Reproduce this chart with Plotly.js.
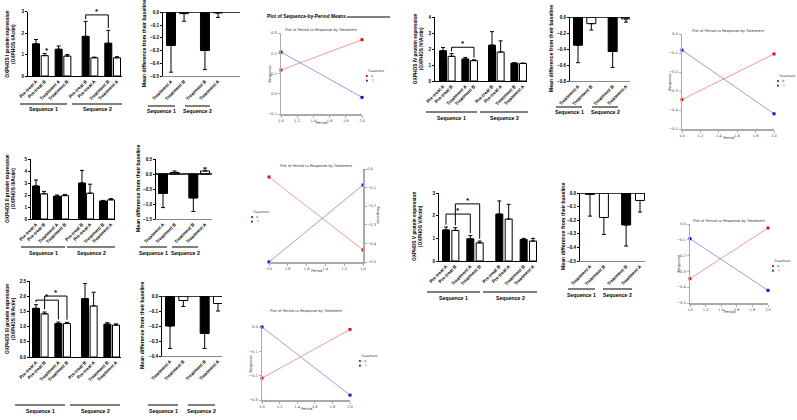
<!DOCTYPE html>
<html><head><meta charset="utf-8">
<script src="https://cdn.plot.ly/plotly-3.0.1.min.js"></script>
<style>html,body{margin:0;padding:0;background:#fff}#chart{width:797px;height:420px}</style>
</head><body><div id="chart"></div>
<script>
// ================= DATA =================
const barCats  = ["Pre-treat A","Pre-treat B","Treatment A","Treatment B","Pre-treat B","Pre-treat A","Treatment B","Treatment A"];
const diffCats = ["Treatment A","Treatment B","Treatment B","Treatment A"];
const seqLabels = ["Sequence 1","Sequence 2"];
const periods = [1.0, 2.0];
const legendLevels = ["A","T"];

// OXPHOS I
const ox1Mean = [1.50,0.95,1.25,0.93,1.85,0.85,1.53,0.85];
const ox1Err  = [0.20,0.10,0.15,0.07,0.70,0.03,0.60,0.05];
const ox1Sig  = [[4,6]];
const ox1Star = [1];
const ox1Diff = [-0.26,-0.01,-0.30,-0.005];
const ox1DiffErr = [0.21,0.06,0.15,0.035];
// OXPHOS II
const ox2Mean = [2.75,2.10,1.90,1.95,3.00,2.15,1.50,1.60];
const ox2Err  = [0.50,0.20,0.10,0.10,1.05,0.75,0.05,0.10];
const ox2Diff = [-0.65,0.05,-0.80,0.10];
const ox2DiffErr = [0.47,0.05,0.45,0.10];
// OXPHOS III
const ox3Mean = [1.60,1.42,1.10,1.10,1.92,1.68,1.08,1.05];
const ox3Err  = [0.12,0.06,0.05,0.04,0.50,0.45,0.05,0.04];
const ox3Sig  = [[0,2],[1,3]];
const ox3Diff = [-0.20,-0.03,-0.25,-0.05];
const ox3DiffErr = [0.15,0.04,0.10,0.05];
// OXPHOS IV
const ox4Mean = [1.90,1.55,1.38,1.28,2.25,1.82,1.12,1.10];
const ox4Err  = [0.20,0.17,0.10,0.05,0.85,0.70,0.03,0.03];
const ox4Sig  = [[1,3]];
const ox4Diff = [-0.35,-0.08,-0.43,-0.02];
const ox4DiffErr = [0.22,0.08,0.20,0.04];
// OXPHOS V
const ox5Mean = [1.37,1.35,0.98,0.80,2.07,1.85,0.95,0.88];
const ox5Err  = [0.13,0.12,0.14,0.08,0.58,0.65,0.05,0.12];
const ox5Sig  = [[0,2],[1,3]];
const ox5Diff = [-0.01,-0.18,-0.235,-0.055];
const ox5DiffErr = [0.16,0.125,0.155,0.085];

// Period-by-treatment mean plots (values at period 1.0, 2.0)
const lp1A = [0.117, 0.267], lp1T = [0.206, -0.018];
const lp2A = [-0.345,-0.105], lp2T = [-0.085,-0.42];
const lp3A = [-0.435,-0.043], lp3T = [-0.086,-0.50];
const lp4A = [-0.346,-0.025], lp4T = [-0.093,-0.42];
const lp5A = [-0.21,-0.01],  lp5T = [0.0,-0.28];

// ================= LAYOUT HELPERS =================
const W = 797, H = 420;
const px = x => x / W;
const py = y => 1 - y / H;
const layout = {width:W, height:H, margin:{l:0,r:0,t:0,b:0}, paper_bgcolor:'#fff',
  plot_bgcolor:'rgba(0,0,0,0)', showlegend:false, shapes:[], annotations:[],
  font:{family:'Liberation Sans, Arial, sans-serif', color:'#000'}};
const traces = [];
let axN = 0;
function newAxes(x0,x1,yTop,yBot,xo,yo){
  axN++; const s = axN===1?'':String(axN);
  layout['xaxis'+s] = Object.assign({domain:[px(x0),px(x1)], anchor:'y'+s, showgrid:false, zeroline:false, fixedrange:true}, xo);
  layout['yaxis'+s] = Object.assign({domain:[py(yBot),py(yTop)], anchor:'x'+s, showgrid:false, zeroline:false, fixedrange:true}, yo);
  return {x:'x'+s, y:'y'+s};
}
function ann(text,x,y,o){ layout.annotations.push(Object.assign({text:text, x:px(x), y:py(y), xref:'paper', yref:'paper', showarrow:false, xanchor:'center', yanchor:'middle'}, o||{})); }
function hline(x0,x1,y,color,w){ layout.shapes.push({type:'line', xref:'paper', yref:'paper', x0:px(x0), x1:px(x1), y0:py(y), y1:py(y), line:{color:color||'#000', width:w||1}}); }
const BOLD = {family:'Liberation Sans, Arial, sans-serif', weight:'bold', color:'#000'};

const pos8 = [0,1,2.6,3.6,5.7,6.7,8.3,9.3];
const pos4 = [0,1.5,3.9,5.4];

function barPanel(c){
  const pos = c.pos, n = c.mean.length;
  const u = (c.b1 - c.b0) / (pos[n-1] - pos[0]);
  const r0 = pos[0] - (c.b0 - c.xa) / u;
  const r1 = r0 + (c.xe - c.xa) / u;
  const ax = newAxes(c.xa, c.xe, c.yt, c.yb,
    {range:[r0,r1], tickvals:pos, ticktext:c.cats, tickangle:-45, showline:true,
     linecolor:c.diff?'#8a8a8a':'#000', linewidth:1, ticks:'', tickfont:Object.assign({size:4.6}, BOLD)},
    {range:c.yr, dtick:c.dtick, tickformat:c.fmt, showline:true, linecolor:'#000', linewidth:1,
     ticks:'outside', ticklen:2, tickwidth:1, tickcolor:'#000', tickfont:Object.assign({size:4.6}, BOLD)});
  const colors = c.mean.map((v,i)=> i%2===0 ? '#000' : '#fff');
  const plus = c.mean.map((v,i)=> v>=0 ? c.err[i] : 0);
  const minus = c.mean.map((v,i)=> v<0 ? c.err[i] : 0);
  traces.push({type:'bar', x:pos, y:c.mean, xaxis:ax.x, yaxis:ax.y, width:c.barPx/u,
    marker:{color:colors, line:{color:'#000', width:1}},
    error_y:{type:'data', symmetric:false, array:plus, arrayminus:minus, color:'#000', thickness:1, width:2},
    hoverinfo:'skip', cliponaxis:false});
  if (c.diff) {
    layout.shapes.push({type:'line', xref:ax.x+' domain', yref:ax.y, x0:0, x1:1, y0:0, y1:0, line:{color:'#000', width:1.3}});
  }
  const span = c.yr[1]-c.yr[0];
  const top = i => c.mean[i] + (c.mean[i]>=0 ? c.err[i] : 0);
  (c.sig||[]).forEach((p,k)=>{
    const [i,j] = p;
    let m = -Infinity; for (let q=i;q<=j;q++) m = Math.max(m, top(q));
    const lvl = m + c.sigPad*span + k*c.sigStep*span;
    const gap = 0.035*span;
    const L = (x0,y0,x1,y1)=>layout.shapes.push({type:'line', xref:ax.x, yref:ax.y, x0:x0,y0:y0,x1:x1,y1:y1, line:{color:'#000', width:1}});
    L(pos[i], lvl, pos[j], lvl);
    L(pos[i], lvl, pos[i], Math.min(lvl, top(i)+gap));
    L(pos[j], lvl, pos[j], Math.min(lvl, top(j)+gap));
    layout.annotations.push({text:'*', xref:ax.x, yref:ax.y, x:(pos[i]+pos[j])/2, y:lvl, yanchor:'bottom', showarrow:false, font:Object.assign({size:8}, BOLD), yshift:-3});
  });
  (c.star||[]).forEach(i=>{
    layout.annotations.push({text:'*', xref:ax.x, yref:ax.y, x:pos[i], y:top(i), yanchor:'bottom', xshift:2, yshift:-4, showarrow:false, font:Object.assign({size:8}, BOLD)});
  });
  ann(c.ytitle, c.tx, (c.yt+c.yb)/2, {textangle:-90, font:Object.assign({size:c.diff?5.2:4.8}, BOLD)});
  c.seq.forEach((s,k)=>{ hline(s[0], s[1], c.seqY, '#000', 1); ann(seqLabels[k], (s[0]+s[1])/2, c.seqY+5.5, {font:Object.assign({size:5.2}, BOLD)}); });
}

function linePanel(c){
  const tf = {size:3.6, color:'#444', family:'DejaVu Sans, sans-serif'};
  const ax = newAxes(c.x0, c.x1, c.yt, c.yb,
    {range:c.rev?[2,1]:[1,2], dtick:0.2, tickformat:'.1f', showline:true, linecolor:'#aaa', linewidth:1.5,
     ticks:'outside', ticklen:2, tickcolor:'#aaa', tickfont:tf},
    {range:c.yr, dtick:c.dtick, tickformat:'.1f', showline:true, linecolor:'#aaa', linewidth:1.5, side:c.rev?'right':'left',
     ticks:'outside', ticklen:2, tickcolor:'#aaa', tickfont:tf});
  traces.push({type:'scatter', mode:'lines+markers', x:periods, y:c.A, xaxis:ax.x, yaxis:ax.y,
    line:{color:'#f29a9a', width:1}, marker:{symbol:'square', size:3, color:'#e01010'}, hoverinfo:'skip', cliponaxis:false});
  traces.push({type:'scatter', mode:'lines+markers', x:periods, y:c.T, xaxis:ax.x, yaxis:ax.y,
    line:{color:'#9a9af2', width:1}, marker:{symbol:'square', size:3, color:'#1010d0'}, hoverinfo:'skip', cliponaxis:false});
  const f = {size:3.6, color:'#333', family:'DejaVu Sans, sans-serif'};
  ann('Plot of Period vs Response by Treatment', (c.x0+c.x1)/2, c.ty || (c.yt-3), {font:f});
  ann('Period', (c.x0+c.x1)/2, c.yb+9, {font:f});
  ann('Response', c.rev ? c.x1+14 : c.x0-12, (c.yt+c.yb)/2, {textangle:c.rev?90:-90, font:f});
  const fl = {size:3.2, color:'#333', family:'DejaVu Sans, sans-serif'};
  ann('Treatment', c.lx, c.ly, {xanchor:'left', font:fl});
  const cols = ['#e01010','#1010d0'];
  legendLevels.forEach((t,k)=>{
    const yy = c.ly + 5 + k*4.6;
    layout.shapes.push({type:'rect', xref:'paper', yref:'paper', x0:px(c.lx+1), x1:px(c.lx+2.8), y0:py(yy-0.9), y1:py(yy+0.9), fillcolor:cols[k], line:{width:0}});
    ann(t, c.lx+4, yy, {xanchor:'left', font:fl});
  });
}

// ================= PANELS =================
barPanel({cats:barCats, pos:pos8, mean:ox1Mean, err:ox1Err, xa:28, xe:122, b0:36, b1:117, yt:11.7, yb:76, yr:[0,3], dtick:1, fmt:'d', barPx:7,
  sig:ox1Sig, sigPad:0.1, sigStep:0.1, star:ox1Star, ytitle:'OXPHOS I protein expression<br>(OXPHOS I/Actin)', tx:11,
  seq:[[20,67],[72,122]], seqY:104});
barPanel({cats:diffCats, pos:pos4, mean:ox1Diff, err:ox1DiffErr, diff:true, xa:163, xe:240, b0:171, b1:218, yt:12.3, yb:76, yr:[-0.5,0], dtick:0.1, fmt:'.1f', barPx:9,
  ytitle:'Mean difference from their baseline', tx:144, seq:[[148,175],[185,210]], seqY:106});
barPanel({cats:barCats, pos:pos8, mean:ox2Mean, err:ox2Err, xa:31, xe:115, b0:36, b1:111, yt:159, yb:219, yr:[0,5], dtick:1, fmt:'d', barPx:7,
  ytitle:'OXPHOS II protein expression<br>(OXPHOS II/Actin)', tx:11, seq:[[21,65],[67,115]], seqY:247});
barPanel({cats:diffCats, pos:pos4, mean:ox2Diff, err:ox2DiffErr, diff:true, xa:156, xe:212, b0:163, b1:205, yt:159, yb:219, yr:[-1.5,0.5], dtick:0.5, fmt:'.1f', barPx:9,
  ytitle:'Mean difference from their baseline', tx:138, seq:[[140,167],[172,198]], seqY:247});
barPanel({cats:barCats, pos:pos8, mean:ox3Mean, err:ox3Err, xa:30, xe:121, b0:36, b1:116, yt:281, yb:357, yr:[0,2.5], dtick:0.5, fmt:'.1f', barPx:7,
  sig:ox3Sig, sigPad:0.06, sigStep:0.15, ytitle:'OXPHOS III protein expression<br>(OXPHOS III/Actin)', tx:10, seq:[[15,65],[70,120]], seqY:405});
barPanel({cats:diffCats, pos:pos4, mean:ox3Diff, err:ox3DiffErr, diff:true, xa:162, xe:222, b0:170, b1:218, yt:296, yb:356, yr:[-0.4,0], dtick:0.1, fmt:'.1f', barPx:9,
  ytitle:'Mean difference from their baseline', tx:142, seq:[[148,178],[188,215]], seqY:405});
barPanel({cats:barCats, pos:pos8, mean:ox4Mean, err:ox4Err, xa:435, xe:527, b0:443, b1:523, yt:17.3, yb:81, yr:[0,4], dtick:1, fmt:'d', barPx:7,
  sig:ox4Sig, sigPad:0.1, sigStep:0.1, ytitle:'OXPHOS IV protein expression<br>(OXPHOS IV/Actin)', tx:418, seq:[[426,477],[480,528]], seqY:112});
barPanel({cats:diffCats, pos:pos4, mean:ox4Diff, err:ox4DiffErr, diff:true, xa:570, xe:630, b0:578, b1:626, yt:17.3, yb:81, yr:[-0.8,0], dtick:0.2, fmt:'.1f', barPx:9,
  ytitle:'Mean difference from their baseline', tx:551, seq:[[556,582],[592,618]], seqY:107});
barPanel({cats:barCats, pos:pos8, mean:ox5Mean, err:ox5Err, xa:439, xe:537, b0:446, b1:533, yt:193, yb:261, yr:[0,3], dtick:1, fmt:'d', barPx:7,
  sig:ox5Sig, sigPad:0.19, sigStep:0.16, ytitle:'OXPHOS V protein expression<br>(OXPHOS V/Actin)', tx:417, seq:[[427,480],[483,537]], seqY:292});
barPanel({cats:diffCats, pos:pos4, mean:ox5Diff, err:ox5DiffErr, diff:true, xa:580, xe:645, b0:590, b1:640, yt:193, yb:261, yr:[-0.5,0], dtick:0.1, fmt:'.1f', barPx:9,
  ytitle:'Mean difference from their baseline', tx:563, seq:[[568,595],[603,632]], seqY:289});

// header of the first mean plot
ann('Plot of Sequence-by-Period Means', 265, 17, {xanchor:'left', font:Object.assign({size:4.8}, BOLD)});
hline(347, 390, 17, '#000', 1);

linePanel({x0:281, x1:362, yt:33, yb:114, yr:[-0.1,0.3], dtick:0.1, A:lp1A, T:lp1T, lx:365, ly:71});
linePanel({x0:682, x1:774, yt:34, yb:129, yr:[-0.5,0], dtick:0.1, A:lp2A, T:lp2T, lx:776, ly:76});
linePanel({x0:269, x1:363, yt:169, yb:262, yr:[-0.5,0], dtick:0.1, A:lp3A, T:lp3T, lx:250, ly:212, rev:true});
linePanel({x0:690, x1:768, yt:224, yb:303, yr:[-0.5,0], dtick:0.1, A:lp4A, T:lp4T, lx:771, ly:261});
linePanel({x0:262, x1:350, yt:327, yb:400, yr:[-0.3,0.0], dtick:0.1, A:lp5A, T:lp5T, lx:358, ly:356, ty:311});

Plotly.newPlot('chart', traces, layout, {staticPlot:true, displayModeBar:false});
</script>
</body></html>
